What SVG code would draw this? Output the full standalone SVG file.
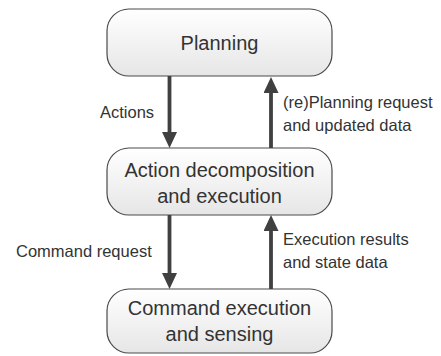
<svg xmlns="http://www.w3.org/2000/svg" width="441" height="356" viewBox="0 0 441 356">
  <style>
    .box { fill: url(#g); stroke: #4a4a4a; stroke-width: 1.2; }
    .nt { font-family: "Liberation Sans", Arial, sans-serif; font-size: 20px; fill: #333; text-anchor: middle; }
    .et { font-family: "Liberation Sans", Arial, sans-serif; font-size: 16.5px; fill: #333; }
    .arr { stroke: #404040; stroke-width: 3.8; fill: none; marker-end: url(#ah); }
  </style>
  <defs>
    <linearGradient id="g" x1="0" y1="0" x2="0" y2="1">
      <stop offset="0" stop-color="#ffffff"/>
      <stop offset="1" stop-color="#e6e6e6"/>
    </linearGradient>
    <marker id="ah" markerUnits="userSpaceOnUse" markerWidth="17" markerHeight="16" refX="5" refY="7.5" orient="auto">
      <path d="M0,0 L16,7.5 L0,15 z" fill="#404040"/>
    </marker>
  </defs>
  <rect width="441" height="356" fill="#ffffff"/>
  <g id="planning">
    <rect class="box" x="107" y="9" width="225" height="67" rx="22" ry="22"/>
    <text class="nt" x="219.5" y="50">Planning</text>
  </g>
  <g id="decomposition">
    <rect class="box" x="107" y="148" width="225" height="67" rx="22" ry="22"/>
    <text class="nt" x="219.5" y="177">Action decomposition</text>
    <text class="nt" x="219.5" y="203">and execution</text>
  </g>
  <g id="command">
    <rect class="box" x="107" y="289" width="225" height="64" rx="22" ry="22"/>
    <text class="nt" x="219.5" y="315">Command execution</text>
    <text class="nt" x="219.5" y="341">and sensing</text>
  </g>
  <g id="connectors">
    <line class="arr" x1="169.5" y1="76" x2="169.5" y2="137"/>
    <line class="arr" x1="271" y1="148" x2="271" y2="88"/>
    <line class="arr" x1="169.5" y1="215" x2="169.5" y2="278"/>
    <line class="arr" x1="271" y1="289" x2="271" y2="226"/>
    <text class="et" x="100" y="118">Actions</text>
    <text class="et" x="283" y="108">(re)Planning request</text>
    <text class="et" x="283" y="131">and updated data</text>
    <text class="et" x="16" y="257">Command request</text>
    <text class="et" x="283" y="245">Execution results</text>
    <text class="et" x="283" y="268">and state data</text>
  </g>
</svg>
